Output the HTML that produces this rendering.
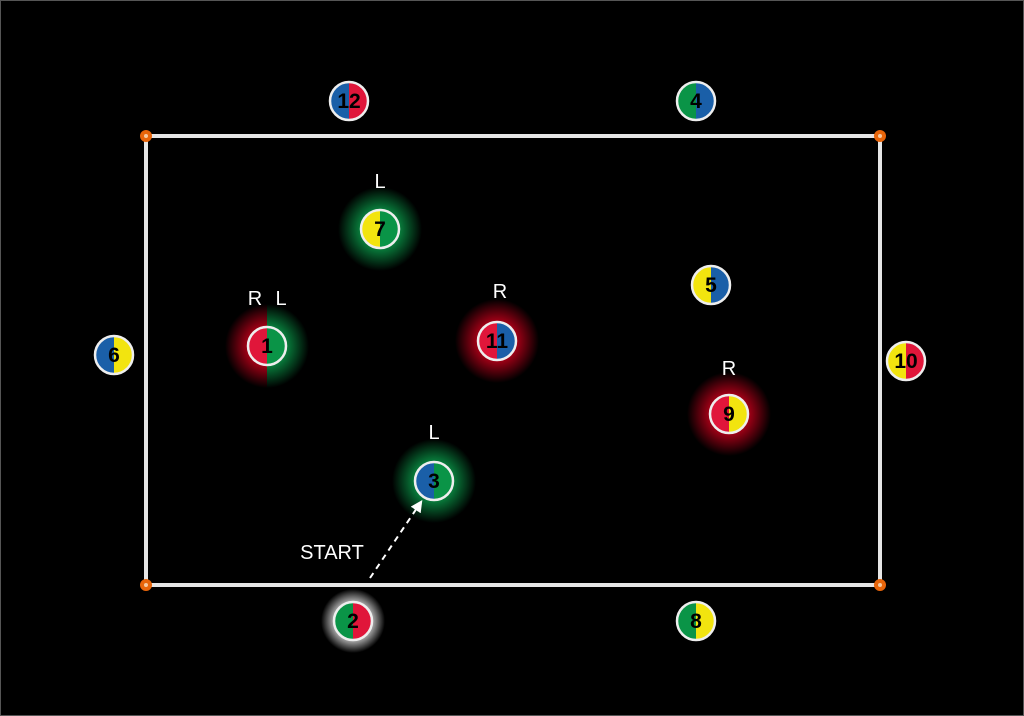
<!DOCTYPE html>
<html><head><style>html,body{margin:0;padding:0;background:#000;}svg{display:block}</style></head><body>
<svg width="1024" height="716" viewBox="0 0 1024 716" xmlns="http://www.w3.org/2000/svg" font-family="Liberation Sans Narrow, Liberation Sans, sans-serif">
<defs>
<radialGradient id="gr"><stop offset="0.4" stop-color="#c0001a" stop-opacity="0.95"/><stop offset="1" stop-color="#c0001a" stop-opacity="0"/></radialGradient>
<radialGradient id="gg"><stop offset="0.4" stop-color="#0a9447" stop-opacity="0.95"/><stop offset="1" stop-color="#0a9447" stop-opacity="0"/></radialGradient>
<radialGradient id="gw"><stop offset="0.5" stop-color="#fff" stop-opacity="0.85"/><stop offset="1" stop-color="#fff" stop-opacity="0"/></radialGradient>
<marker id="ah" markerWidth="12" markerHeight="12" refX="6" refY="6" orient="auto" markerUnits="userSpaceOnUse"><path d="M0,0 L12,6 L0,12 z" fill="#fff"/></marker>
<clipPath id="cl"><rect x="-30" y="-30" width="30" height="60"/></clipPath>
<clipPath id="cr"><rect x="0" y="-30" width="30" height="60"/></clipPath>
<clipPath id="hl"><rect x="200" y="280" width="67" height="140"/></clipPath>
<clipPath id="hr"><rect x="267" y="280" width="67" height="140"/></clipPath>
</defs>
<rect x="0.5" y="0.5" width="1023" height="715" fill="#000" stroke="#555"/>
<rect x="146" y="136" width="734" height="449" fill="none" stroke="#e6e6e6" stroke-width="4"/>
<g fill="#e8650a"><circle cx="146" cy="136" r="6"/><circle cx="880" cy="136" r="6"/><circle cx="146" cy="585" r="6"/><circle cx="880" cy="585" r="6"/></g>
<g fill="#f5c9a0"><circle cx="146" cy="136" r="2"/><circle cx="880" cy="136" r="2"/><circle cx="146" cy="585" r="2"/><circle cx="880" cy="585" r="2"/></g>
<!-- glows -->
<circle cx="380" cy="229" r="42" fill="url(#gg)"/>
<circle cx="267" cy="346" r="42" fill="url(#gr)" clip-path="url(#hl)"/>
<circle cx="267" cy="346" r="42" fill="url(#gg)" clip-path="url(#hr)"/>
<circle cx="497" cy="341" r="42" fill="url(#gr)"/>
<circle cx="729" cy="414" r="42" fill="url(#gr)"/>
<circle cx="434" cy="481" r="42" fill="url(#gg)"/>
<circle cx="353" cy="621" r="32" fill="url(#gw)"/>
<line x1="370" y1="578" x2="419" y2="505" stroke="#fff" stroke-width="2" stroke-dasharray="6,5" marker-end="url(#ah)"/>
<g font-size="20" fill="#fff" text-anchor="middle">
<text x="380" y="188">L</text><text x="255" y="305">R</text><text x="281" y="305">L</text>
<text x="500" y="298">R</text><text x="729" y="375">R</text><text x="434" y="439">L</text>
<text x="332" y="559">START</text>
</g>
<g font-size="21" font-weight="bold" text-anchor="middle">
<g transform="translate(349,101)"><circle r="19" fill="#1a5fa8" clip-path="url(#cl)"/><circle r="19" fill="#e0163a" clip-path="url(#cr)"/><circle r="19" fill="none" stroke="#eee" stroke-width="2.5"/><text y="7">12</text></g>
<g transform="translate(696,101)"><circle r="19" fill="#0a9447" clip-path="url(#cl)"/><circle r="19" fill="#1a5fa8" clip-path="url(#cr)"/><circle r="19" fill="none" stroke="#eee" stroke-width="2.5"/><text y="7">4</text></g>
<g transform="translate(380,229)"><circle r="19" fill="#f2e40f" clip-path="url(#cl)"/><circle r="19" fill="#0a9447" clip-path="url(#cr)"/><circle r="19" fill="none" stroke="#eee" stroke-width="2.5"/><text y="7">7</text></g>
<g transform="translate(711,285)"><circle r="19" fill="#f2e40f" clip-path="url(#cl)"/><circle r="19" fill="#1a5fa8" clip-path="url(#cr)"/><circle r="19" fill="none" stroke="#eee" stroke-width="2.5"/><text y="7">5</text></g>
<g transform="translate(267,346)"><circle r="19" fill="#e0163a" clip-path="url(#cl)"/><circle r="19" fill="#0a9447" clip-path="url(#cr)"/><circle r="19" fill="none" stroke="#eee" stroke-width="2.5"/><text y="7">1</text></g>
<g transform="translate(497,341)"><circle r="19" fill="#e0163a" clip-path="url(#cl)"/><circle r="19" fill="#1a5fa8" clip-path="url(#cr)"/><circle r="19" fill="none" stroke="#eee" stroke-width="2.5"/><text y="7">11</text></g>
<g transform="translate(114,355)"><circle r="19" fill="#1a5fa8" clip-path="url(#cl)"/><circle r="19" fill="#f2e40f" clip-path="url(#cr)"/><circle r="19" fill="none" stroke="#eee" stroke-width="2.5"/><text y="7">6</text></g>
<g transform="translate(906,361)"><circle r="19" fill="#f2e40f" clip-path="url(#cl)"/><circle r="19" fill="#e0163a" clip-path="url(#cr)"/><circle r="19" fill="none" stroke="#eee" stroke-width="2.5"/><text y="7">10</text></g>
<g transform="translate(729,414)"><circle r="19" fill="#e0163a" clip-path="url(#cl)"/><circle r="19" fill="#f2e40f" clip-path="url(#cr)"/><circle r="19" fill="none" stroke="#eee" stroke-width="2.5"/><text y="7">9</text></g>
<g transform="translate(434,481)"><circle r="19" fill="#1a5fa8" clip-path="url(#cl)"/><circle r="19" fill="#0a9447" clip-path="url(#cr)"/><circle r="19" fill="none" stroke="#eee" stroke-width="2.5"/><text y="7">3</text></g>
<g transform="translate(353,621)"><circle r="19" fill="#0a9447" clip-path="url(#cl)"/><circle r="19" fill="#e0163a" clip-path="url(#cr)"/><circle r="19" fill="none" stroke="#eee" stroke-width="2.5"/><text y="7">2</text></g>
<g transform="translate(696,621)"><circle r="19" fill="#0a9447" clip-path="url(#cl)"/><circle r="19" fill="#f2e40f" clip-path="url(#cr)"/><circle r="19" fill="none" stroke="#eee" stroke-width="2.5"/><text y="7">8</text></g>
</g>
</svg>
</body></html>
